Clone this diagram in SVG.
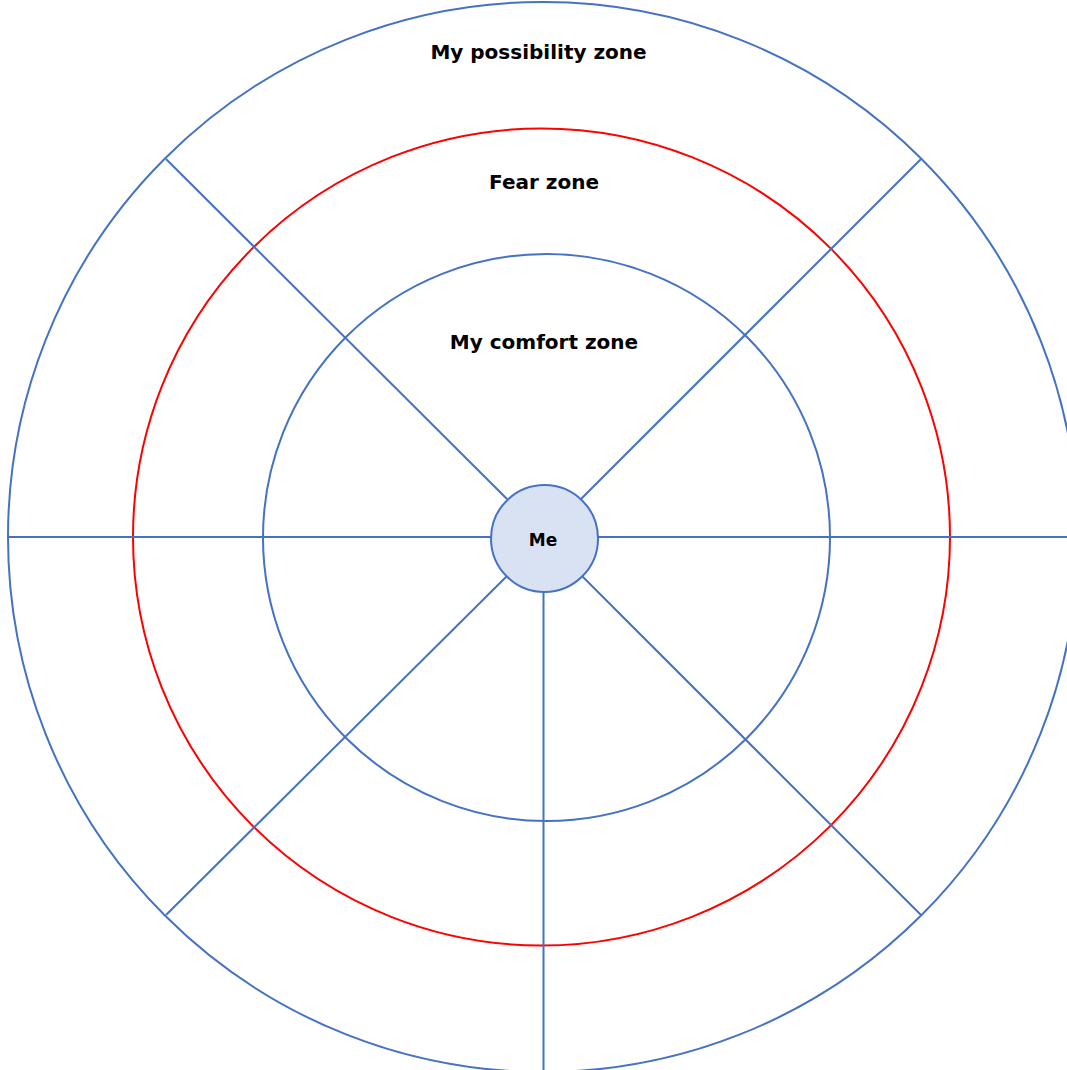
<svg xmlns="http://www.w3.org/2000/svg" width="1067" height="1070" viewBox="0 0 1067 1070">
<style>
.ring{fill:none;stroke:#4472C4;stroke-width:2}
.red{fill:none;stroke:#FF0000;stroke-width:2}
.ln{stroke:#4472C4;stroke-width:2;fill:none}
.lbl{font-family:"DejaVu Sans",Verdana,sans-serif;font-weight:bold;font-size:20px;fill:#000;text-anchor:middle}
</style>
<rect width="1067" height="1070" fill="#fff"/>
<g id="outer-zone"><circle class="ring" cx="543" cy="537" r="535"/></g>
<g id="fear-zone"><circle class="red" cx="541.5" cy="537" r="408.5"/></g>
<g id="comfort-zone"><circle class="ring" cx="546.5" cy="537.5" r="283.5"/></g>
<g id="connectors">
<line class="ln" x1="8" y1="537" x2="491" y2="537"/>
<line class="ln" x1="598" y1="537" x2="1067" y2="537"/>
<line class="ln" x1="543.5" y1="592" x2="543.5" y2="1070"/>
<line class="ln" x1="166" y1="159" x2="507" y2="499"/>
<line class="ln" x1="921" y1="159" x2="581" y2="499"/>
<line class="ln" x1="507" y1="576" x2="166" y2="915"/>
<line class="ln" x1="582" y1="576" x2="921" y2="915"/>
</g>
<g id="me"><circle cx="544.5" cy="538.5" r="53.5" fill="#D9E2F3" stroke="#4472C4" stroke-width="2"/>
<text class="lbl" x="543" y="546" style="font-size:17px">Me</text></g>
<g id="labels">
<text class="lbl" x="538.5" y="59">My possibility zone</text>
<text class="lbl" x="544" y="189">Fear zone</text>
<text class="lbl" x="544" y="349">My comfort zone</text>
</g>
</svg>
